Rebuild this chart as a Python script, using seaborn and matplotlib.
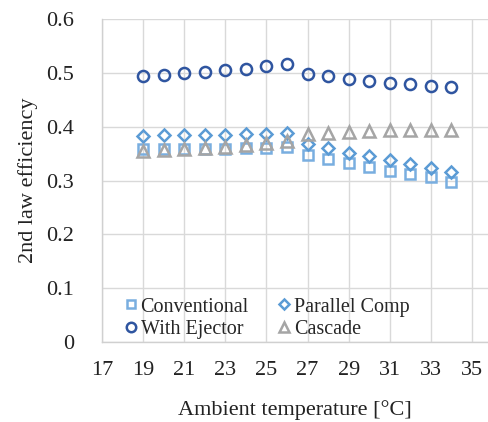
import matplotlib
matplotlib.use("Agg")
import matplotlib.pyplot as plt
import seaborn as sns
import pandas as pd

temps = [19, 20, 21, 22, 23, 24, 25, 26, 27, 28, 29, 30, 31, 32, 33, 34]
conventional = [0.358, 0.358, 0.358, 0.359, 0.359, 0.360, 0.360, 0.362, 0.348, 0.340, 0.333, 0.326, 0.318, 0.313, 0.306, 0.298]
parallel = [0.383, 0.384, 0.384, 0.384, 0.385, 0.386, 0.387, 0.389, 0.368, 0.360, 0.352, 0.346, 0.338, 0.331, 0.323, 0.315]
ejector = [0.494, 0.496, 0.499, 0.502, 0.505, 0.508, 0.513, 0.517, 0.498, 0.494, 0.489, 0.485, 0.481, 0.479, 0.476, 0.473]
cascade = [0.354, 0.357, 0.358, 0.360, 0.362, 0.366, 0.370, 0.374, 0.386, 0.388, 0.390, 0.392, 0.394, 0.394, 0.394, 0.394]

series_names = ["Conventional", "Parallel Comp", "With Ejector", "Cascade"]
x_ticks = [17, 19, 21, 23, 25, 27, 29, 31, 33, 35]
y_ticks = [0, 0.1, 0.2, 0.3, 0.4, 0.5, 0.6]
y_tick_labels = ["0", "0.1", "0.2", "0.3", "0.4", "0.5", "0.6"]

sns.set_theme(style="white")
plt.rcParams["font.family"] = ["Liberation Serif", "DejaVu Serif"]

fig = plt.figure(figsize=(4.88, 4.22), dpi=100)
ax = fig.add_axes([102 / 488, 80 / 422, 1 - 102 / 488, 323 / 422])

styles = {
    "Conventional": dict(marker="s", color="#79AEE0", ms=7.5),
    "Parallel Comp": dict(marker="D", color="#5B9BD5", ms=6.0),
    "With Ejector": dict(marker="o", color="#2F55A0", ms=8.0),
    "Cascade": dict(marker="^", color="#A5A5A5", ms=8.0),
}
data = {"Conventional": conventional, "Parallel Comp": parallel,
        "With Ejector": ejector, "Cascade": cascade}

handles = {}
for name in series_names:
    df = pd.DataFrame({"T": temps, "eff": data[name]})
    st = styles[name]
    sns.lineplot(data=df, x="T", y="eff", ax=ax, linestyle="none",
                 marker=st["marker"], markersize=st["ms"],
                 markerfacecolor="none", markeredgecolor=st["color"],
                 markeredgewidth=1.8, color=st["color"], label=name, legend=False)
    handles[name] = ax.lines[-1]

ax.set_xlim(17, 35.78)
ax.set_ylim(0, 0.6)
ax.set_xticks(x_ticks)
ax.set_xticklabels([str(t) for t in x_ticks])
ax.set_yticks(y_ticks)
ax.set_yticklabels(y_tick_labels)
ax.grid(True, color="#D9D9D9", linewidth=1.0)
ax.set_axisbelow(True)
for s in ["top", "right"]:
    ax.spines[s].set_visible(False)
for s in ["left", "bottom"]:
    ax.spines[s].set_color("#D0D0D0")
    ax.spines[s].set_linewidth(1.0)
ax.tick_params(axis="both", length=0, labelsize=16, colors="#222222")
ax.tick_params(axis="y", pad=20)
ax.tick_params(axis="x", pad=14)
ax.set_xlabel("Ambient temperature [°C]", fontsize=16, color="#222222", labelpad=14)
ax.set_ylabel("2nd law efficiency", fontsize=16, color="#222222", labelpad=6)

order = ["Conventional", "With Ejector", "Parallel Comp", "Cascade"]
ax.legend([handles[n] for n in order], order, ncol=2, loc="lower left",
          bbox_to_anchor=(0.027, -0.027), frameon=False, fontsize=14.5,
          handlelength=0.6, handletextpad=0.2, columnspacing=1.45,
          labelspacing=0.15, borderaxespad=0.2, markerscale=0.85)

fig.savefig("out.png", dpi=100)
